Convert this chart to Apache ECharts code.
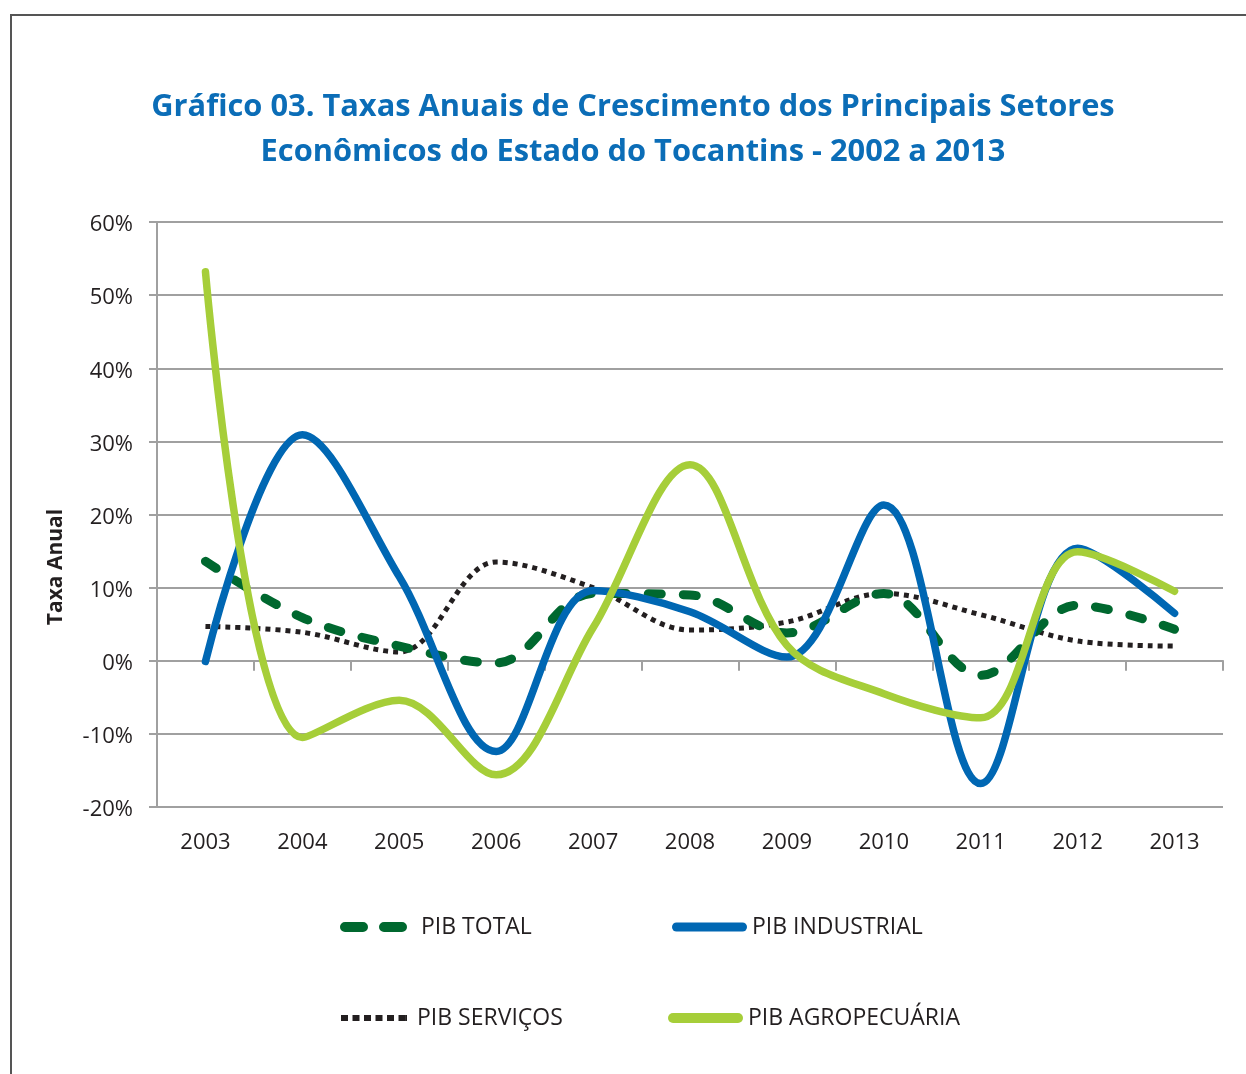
<!DOCTYPE html>
<html>
<head>
<meta charset="utf-8">
<script src="https://cdn.jsdelivr.net/npm/echarts@6/dist/echarts.min.js"></script>
<style>
html,body{margin:0;padding:0;background:#fff;}
#frame{position:absolute;left:10px;top:14px;width:1240px;height:1070px;border-left:2px solid #555;border-top:2px solid #555;box-sizing:border-box;}
#chart{position:absolute;left:0;top:0;width:1246px;height:1074px;}
</style>
</head>
<body>
<div id="frame"></div>
<div id="chart"></div>
<script>
const years = ['2003','2004','2005','2006','2007','2008','2009','2010','2011','2012','2013'];
const pibTotal = [13.6, 5.9, 2.0, -0.3, 9.2, 9.0, 3.8, 9.2, -2.0, 7.6, 4.3];
const pibIndustrial = [-0.1, 30.9, 11.5, -12.4, 9.6, 6.7, 0.5, 21.3, -16.8, 15.4, 6.5];
const pibServicos = [4.7, 3.9, 1.2, 13.5, 10.0, 4.2, 5.3, 9.2, 6.3, 2.7, 2.0];
const pibAgro = [53.2, -10.5, -5.4, -15.6, 4.5, 26.8, 2.1, -4.5, -7.8, 14.9, 9.5];
const yTicks = [-20, -10, 0, 10, 20, 30, 40, 50, 60];

const chart = echarts.init(document.getElementById('chart'), null, {renderer: 'canvas'});
const FONT = 'Open Sans';
const SMOOTH = 0.35;
const ICON_TOTAL = 'path://M5,0 H23 A5,5 0 0 1 23,10 H5 A5,5 0 0 1 5,0 Z M44,0 H62 A5,5 0 0 1 62,10 H44 A5,5 0 0 1 44,0 Z';
const ICON_IND = 'path://M4.5,0 H70.5 A4.5,4.5 0 0 1 70.5,9 H4.5 A4.5,4.5 0 0 1 4.5,0 Z';
const ICON_SERV = 'path://M0,0 h7 v6 h-7 Z M11.5,0 h7 v6 h-7 Z M23,0 h7 v6 h-7 Z M34.5,0 h7 v6 h-7 Z M46,0 h7 v6 h-7 Z M57.5,0 h7 v6 h-7 Z M64.6,0 h1.4 v6 h-1.4 Z';
const ICON_AGRO = 'path://M5,0 H70 A5,5 0 0 1 70,10 H5 A5,5 0 0 1 5,0 Z';
const legendText = {fontFamily: FONT, fontSize: 23, color: '#231F20', lineHeight: 26};
function lg(name, icon, left, top, w, h, pad) {
  return {data: [{name: name, icon: icon}], left: left, top: top, itemWidth: w, itemHeight: h, padding: 0,
    itemStyle: {borderWidth: 0},
    textStyle: Object.assign({}, legendText, {padding: [0, 0, 0, pad]}), selectedMode: false};
}
chart.setOption({
  animation: false,
  backgroundColor: 'transparent',
  title: {
    text: 'Gráfico 03. Taxas Anuais de Crescimento dos Principais Setores\nEconômicos do Estado do Tocantins - 2002 a 2013',
    left: 628, top: 80, textAlign: 'center',
    textStyle: {fontFamily: FONT, fontWeight: 'bold', fontSize: 30.8, color: '#0B6DB7', lineHeight: 45}
  },
  graphic: [{
    type: 'text', x: 56, y: 567, rotation: Math.PI / 2,
    style: {text: 'Taxa Anual', font: 'bold 21px "Open Sans"', fill: '#231F20', align: 'center', verticalAlign: 'middle'}
  }],
  legend: [
    lg('PIB TOTAL', ICON_TOTAL, 340, 914, 67, 10, 9),
    lg('PIB INDUSTRIAL', ICON_IND, 672, 914, 75, 9, 0),
    lg('PIB SERVIÇOS', ICON_SERV, 341, 1005, 66, 6, 5),
    lg('PIB AGROPECUÁRIA', ICON_AGRO, 668, 1005, 75, 10, 0)
  ],
  grid: {left: 157, right: 23, top: 222, bottom: 267, containLabel: false},
  xAxis: [{
    type: 'category', data: years, boundaryGap: true,
    axisLine: {show: false, onZero: false}, axisTick: {show: false},
    axisLabel: {fontFamily: FONT, fontSize: 22, color: '#231F20', margin: 25}
  }, {
    type: 'category', data: years, boundaryGap: true, position: 'bottom',
    axisLine: {show: true, onZero: true, lineStyle: {color: '#A0A0A0', width: 2}},
    axisTick: {show: true, length: 10, inside: false, lineStyle: {color: '#A0A0A0', width: 2}},
    axisLabel: {show: false}
  }],
  yAxis: {
    type: 'value', min: -20, max: 60, interval: 10,
    axisLine: {show: true, lineStyle: {color: '#A0A0A0', width: 2}},
    axisTick: {show: true, length: 8, lineStyle: {color: '#A0A0A0', width: 2}},
    splitLine: {show: true, lineStyle: {color: '#A0A0A0', width: 2}},
    axisLabel: {fontFamily: FONT, fontSize: 22, color: '#231F20', margin: 24,
      formatter: v => yTicks.includes(v) ? '{a|' + v + '%}' : '',
      rich: {a: {fontFamily: FONT, fontSize: 22, color: '#231F20', padding: [6, 0, 0, 0]}}}
  },
  series: [
    {name: 'PIB TOTAL', type: 'line', data: pibTotal, smooth: SMOOTH, symbol: 'none', z: 3,
      itemStyle: {color: '#00682F'},
      lineStyle: {color: '#00682F', width: 9, type: [13, 22], cap: 'round'}},
    {name: 'PIB INDUSTRIAL', type: 'line', data: pibIndustrial, smooth: SMOOTH, symbol: 'none', z: 4,
      itemStyle: {color: '#0067B3'},
      lineStyle: {color: '#0067B3', width: 7.5, cap: 'round'}},
    {name: 'PIB SERVIÇOS', type: 'line', data: pibServicos, smooth: SMOOTH, symbol: 'none', z: 2,
      itemStyle: {color: '#231F20'},
      lineStyle: {color: '#231F20', width: 5, type: [5, 5], cap: 'butt'}},
    {name: 'PIB AGROPECUÁRIA', type: 'line', data: pibAgro, smooth: SMOOTH, symbol: 'none', z: 5,
      itemStyle: {color: '#A6CE39'},
      lineStyle: {color: '#A6CE39', width: 7.5, cap: 'round'}}
  ]
});
</script>
</body>
</html>
